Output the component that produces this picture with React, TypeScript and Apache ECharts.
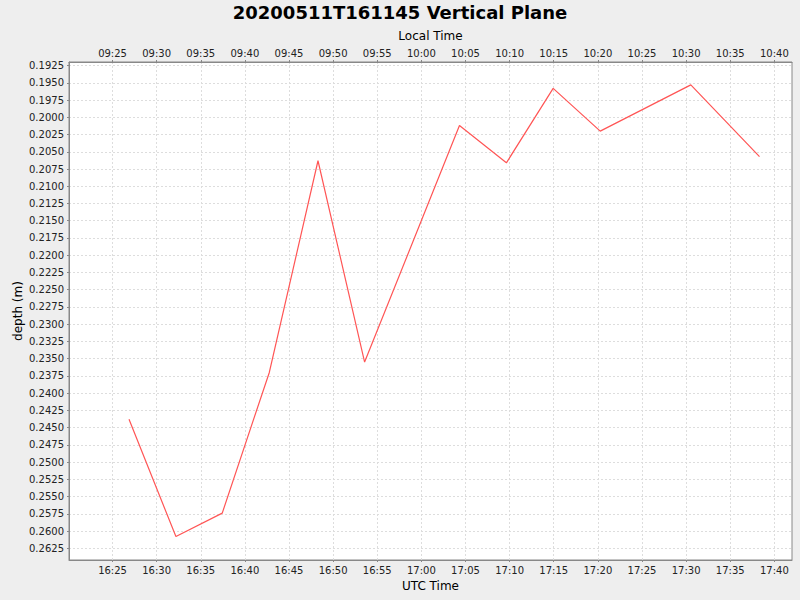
import * as echarts from "echarts";
import { useEffect, useRef } from "react";

// sample times (UTC) and measured depth
const utcTimes = [
  "16:26:52", "16:32:11", "16:37:26", "16:42:46", "16:48:17", "16:53:34",
  "17:04:19", "17:09:38", "17:14:56", "17:20:16", "17:30:32", "17:38:19",
];
const depths = [
  0.2438, 0.2608, 0.2574, 0.2370, 0.2063, 0.2355,
  0.2012, 0.2066, 0.1958, 0.2020, 0.1953, 0.2057,
];

const utcTickLabels = [
  "16:25", "16:30", "16:35", "16:40", "16:45", "16:50", "16:55", "17:00",
  "17:05", "17:10", "17:15", "17:20", "17:25", "17:30", "17:35", "17:40",
];
const localTickLabels = [
  "09:25", "09:30", "09:35", "09:40", "09:45", "09:50", "09:55", "10:00",
  "10:05", "10:10", "10:15", "10:20", "10:25", "10:30", "10:35", "10:40",
];
const depthTicks = [
  0.1925, 0.195, 0.1975, 0.2, 0.2025, 0.205, 0.2075, 0.21, 0.2125, 0.215,
  0.2175, 0.22, 0.2225, 0.225, 0.2275, 0.23, 0.2325, 0.235, 0.2375, 0.24,
  0.2425, 0.245, 0.2475, 0.25, 0.2525, 0.255, 0.2575, 0.26, 0.2625,
];

const toMinutes = (s: string) => {
  const [h, m, sec = "0"] = s.split(":");
  return Number(h) * 60 + Number(m) + Number(sec) / 60;
};

const FONT = "DejaVu Sans";
const GRID_COLOR = "#dddddd";
const AXIS_COLOR = "#888888";

export default function App() {
  const chartRef = useRef<HTMLDivElement>(null);

  useEffect(() => {
    if (!chartRef.current) return;
    const chart = echarts.init(chartRef.current, undefined, { renderer: "svg" });

    const tickValues = utcTickLabels.map(toMinutes);
    const labelAt = (labels: string[]) => (v: number) => {
      const i = tickValues.findIndex((t) => Math.abs(t - v) < 1e-6);
      return i >= 0 ? labels[i] : "";
    };
    const xMin = toMinutes("16:20:04");
    const xMax = toMinutes("17:42:00");

    const xCommon = {
      type: "value",
      min: xMin,
      max: xMax,
      nameLocation: "middle",
      nameMoveOverlap: false,
      nameTextStyle: { fontSize: 12, color: "#000", fontFamily: FONT },
      axisLine: { show: true, lineStyle: { color: AXIS_COLOR } },
      axisTick: { show: true, length: 2, customValues: tickValues, lineStyle: { color: AXIS_COLOR } },
    };

    chart.setOption({
      animation: false,
      backgroundColor: "#eeeeee",
      textStyle: { fontFamily: FONT },
      title: {
        text: "20200511T161145 Vertical Plane",
        left: "center",
        top: -2,
        textStyle: { fontSize: 18, fontWeight: "bold", color: "#000", fontFamily: FONT },
      },
      grid: {
        left: 69,
        right: 8,
        top: 62,
        bottom: 40,
        show: true,
        backgroundColor: "#ffffff",
        borderColor: AXIS_COLOR,
        borderWidth: 1,
      },
      xAxis: [
        {
          ...xCommon,
          position: "bottom",
          name: "UTC Time",
          nameGap: 20,
          axisLabel: {
            customValues: tickValues,
            formatter: labelAt(utcTickLabels),
            fontSize: 10,
            color: "#222",
            margin: 5,
            fontFamily: FONT,
          },
          splitLine: { show: true, lineStyle: { color: GRID_COLOR, type: [2, 2] } },
        },
        {
          ...xCommon,
          position: "top",
          name: "Local Time",
          nameGap: 20,
          axisLabel: {
            customValues: tickValues,
            formatter: labelAt(localTickLabels),
            fontSize: 10,
            color: "#222",
            margin: 4,
            fontFamily: FONT,
          },
          splitLine: { show: false },
        },
      ],
      yAxis: {
        type: "value",
        inverse: true,
        min: 0.19198,
        max: 0.2642,
        name: "depth (m)",
        nameLocation: "middle",
        nameMoveOverlap: false,
        nameGap: 45,
        nameRotate: 90,
        nameTextStyle: { fontSize: 12, color: "#000", fontFamily: FONT },
        axisLine: { show: true, lineStyle: { color: AXIS_COLOR } },
        axisTick: { show: true, length: 2, customValues: depthTicks, lineStyle: { color: AXIS_COLOR } },
        axisLabel: {
          customValues: depthTicks,
          formatter: (v: number) => v.toFixed(4),
          fontSize: 10,
          color: "#222",
          margin: 5,
          fontFamily: FONT,
        },
        splitLine: { show: true, lineStyle: { color: GRID_COLOR, type: [2, 2] } },
      },
      series: [
        {
          type: "line",
          xAxisIndex: 0,
          data: utcTimes.map((t, i) => [toMinutes(t), depths[i]]),
          symbol: "none",
          lineStyle: { color: "#ff5555", width: 1.2 },
        },
      ],
    });

    return () => chart.dispose();
  }, []);

  return (
    <div
      ref={chartRef}
      style={{ position: "fixed", left: 0, top: 0, width: 800, height: 600 }}
    />
  );
}
